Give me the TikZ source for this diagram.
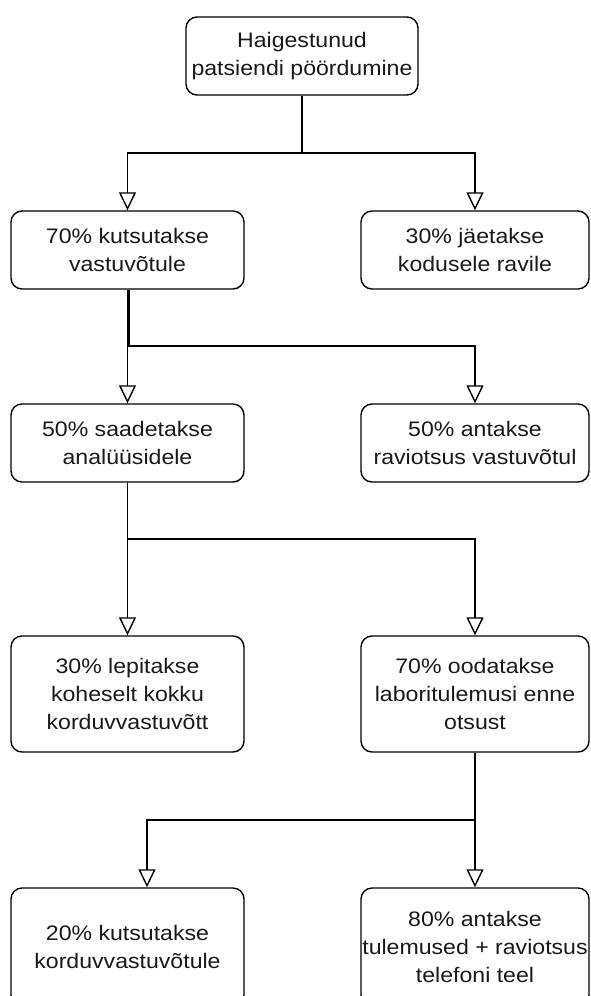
\documentclass[tikz,border=0pt]{standalone}
\usepackage{fontspec}
\setmainfont{Liberation Sans}[FakeStretch=1.1]
\usetikzlibrary{arrows.meta}

\begin{document}
\begin{tikzpicture}[x=1pt,y=-1pt,
  box/.style={draw, line width=1.4pt, rounded corners=11pt, align=center,
    inner sep=0pt, font=\fontsize{21}{28}\selectfont, text=black!90},
  lbox/.style={box, minimum width=233pt},
  rbox/.style={box, minimum width=228pt},
  flow/.style={line width=1.4pt, -{Triangle[open,length=18pt,width=17pt]}},
  link/.style={line width=1.4pt},
]
\useasboundingbox (0,0) rectangle (590,996);

% boxes
\node[box, minimum width=232pt, minimum height=78pt] (start) at (302,56)
  {Haigestunud\\patsiendi pöördumine};

\node[lbox, minimum height=78pt] (r2l) at (127.5,250) {70\% kutsutakse\\vastuvõtule};
\node[rbox, minimum height=78pt] (r2r) at (475,250) {30\% jäetakse\\kodusele ravile};

\node[lbox, minimum height=78pt] (r3l) at (127.5,443) {50\% saadetakse\\analüüsidele};
\node[rbox, minimum height=78pt] (r3r) at (475,443) {50\% antakse\\raviotsus vastuvõtul};

\node[lbox, minimum height=116pt] (r4l) at (127.5,694) {30\% lepitakse\\koheselt kokku\\korduvvastuvõtt};
\node[rbox, minimum height=116pt] (r4r) at (475,694) {70\% oodatakse\\laboritulemusi enne\\otsust};

\node[lbox, minimum height=118pt] (r5l) at (127.5,947) {20\% kutsutakse\\korduvvastuvõtule};
\node[rbox, minimum height=118pt] (r5r) at (475,947) {80\% antakse\\tulemused + raviotsus\\telefoni teel};

% branch points
\coordinate (j1) at (302,153);
\coordinate (j2) at (127.5,346);
\coordinate (j3) at (127.5,539);
\coordinate (j4) at (475,820);

% connectors
\draw[link] (start.south) -- (j1);
\draw[flow] (j1) -| (r2l.north);
\draw[flow] (j1) -| (r2r.north);

\draw[flow] (r2l.south) -- (r3l.north);
\draw[flow] ([xshift=1.3pt]r2l.south) -- ([xshift=1.3pt]j2) -| (r3r.north);

\draw[link] (r3l.south) -- (j3);
\draw[flow] (j3) -- (r4l.north);
\draw[flow] (j3) -| (r4r.north);

\draw[link] (r4r.south) -- (j4);
\draw[flow] (j4) -- (r5r.north);
\draw[flow] (j4) -| ([xshift=19.5pt]r5l.north);
\end{tikzpicture}
\end{document}
